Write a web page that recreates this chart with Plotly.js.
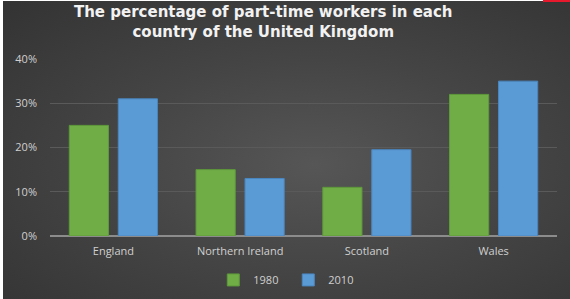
<!DOCTYPE html>
<html>
<head>
<meta charset="utf-8">
<script src="https://cdn.plot.ly/plotly-3.0.1.min.js"></script>
<style>
html,body{margin:0;padding:0;background:#ffffff;width:570px;height:299px;overflow:hidden;}
#wrap{position:absolute;left:3px;top:1px;width:567px;height:298px;
background:radial-gradient(ellipse at 55% 55%, #565656 0%, #454545 45%, #333333 100%);}
#redbar{position:absolute;left:543px;top:0;width:27px;height:2px;background:#e8192c;}
#chart{width:567px;height:298px;}
</style>
</head>
<body>
<div id="wrap"><div id="chart"></div></div>
<div id="redbar"></div>
<script>
var categories = ["England", "Northern Ireland", "Scotland", "Wales"];
var series1980 = [25, 15, 11, 32];
var series2010 = [31, 13, 19.5, 35];
var seriesNames = ["1980", "2010"];
var yTickVals = [0, 10, 20, 30, 40];
var yTickText = ["0%", "10%", "20%", "30%", "40%"];

var traces = [
  {type: "bar", name: seriesNames[0], x: categories, y: series1980,
   marker: {color: "#70ad47", line: {color: "#5e9a3a", width: 1}}},
  {type: "bar", name: seriesNames[1], x: categories, y: series2010,
   marker: {color: "#5b9bd5", line: {color: "#4a86c0", width: 1}}}
];

var layout = {
  width: 567, height: 298,
  paper_bgcolor: "rgba(0,0,0,0)",
  plot_bgcolor: "rgba(0,0,0,0)",
  margin: {l: 47, r: 13, t: 58, b: 63, autoexpand: false},
  barmode: "group",
  bargap: 0.227,
  bargroupgap: 0.2,
  font: {family: "Open Sans, sans-serif", color: "#d0d0d0", size: 11},
  title: {
    text: "The percentage of part-time workers in each<br>country of the United Kingdom",
    font: {family: "DejaVu Sans, sans-serif", size: 15, color: "#f2f2f2", weight: "bold"},
    x: 0.459, xanchor: "center", y: 0.945, yanchor: "top", yref: "container"
  },
  xaxis: {
    showgrid: false, zeroline: false, showline: false, automargin: false,
    tickfont: {size: 11, color: "#d0d0d0"},
    ticks: "", ticklabelstandoff: 7, fixedrange: true
  },
  yaxis: {
    range: [0, 40], tickvals: yTickVals, ticktext: yTickText, automargin: false,
    showgrid: true, gridcolor: "#5a5a5a", gridwidth: 1,
    zeroline: true, zerolinecolor: "#8c8c8c", zerolinewidth: 1.5,
    showline: false, ticks: "", ticklabelstandoff: 12,
    tickfont: {size: 11, color: "#d0d0d0"}, fixedrange: true
  },
  showlegend: true,
  legend: {
    orientation: "h", x: 0.47, xanchor: "center",
    yref: "container", y: 0.064, yanchor: "middle",
    font: {size: 11, color: "#d0d0d0"}, bgcolor: "rgba(0,0,0,0)",
    itemwidth: 30, entrywidth: 30, entrywidthmode: "pixels"
  }
};

Plotly.newPlot("chart", traces, layout, {displayModeBar: false, staticPlot: true});
</script>
</body>
</html>
